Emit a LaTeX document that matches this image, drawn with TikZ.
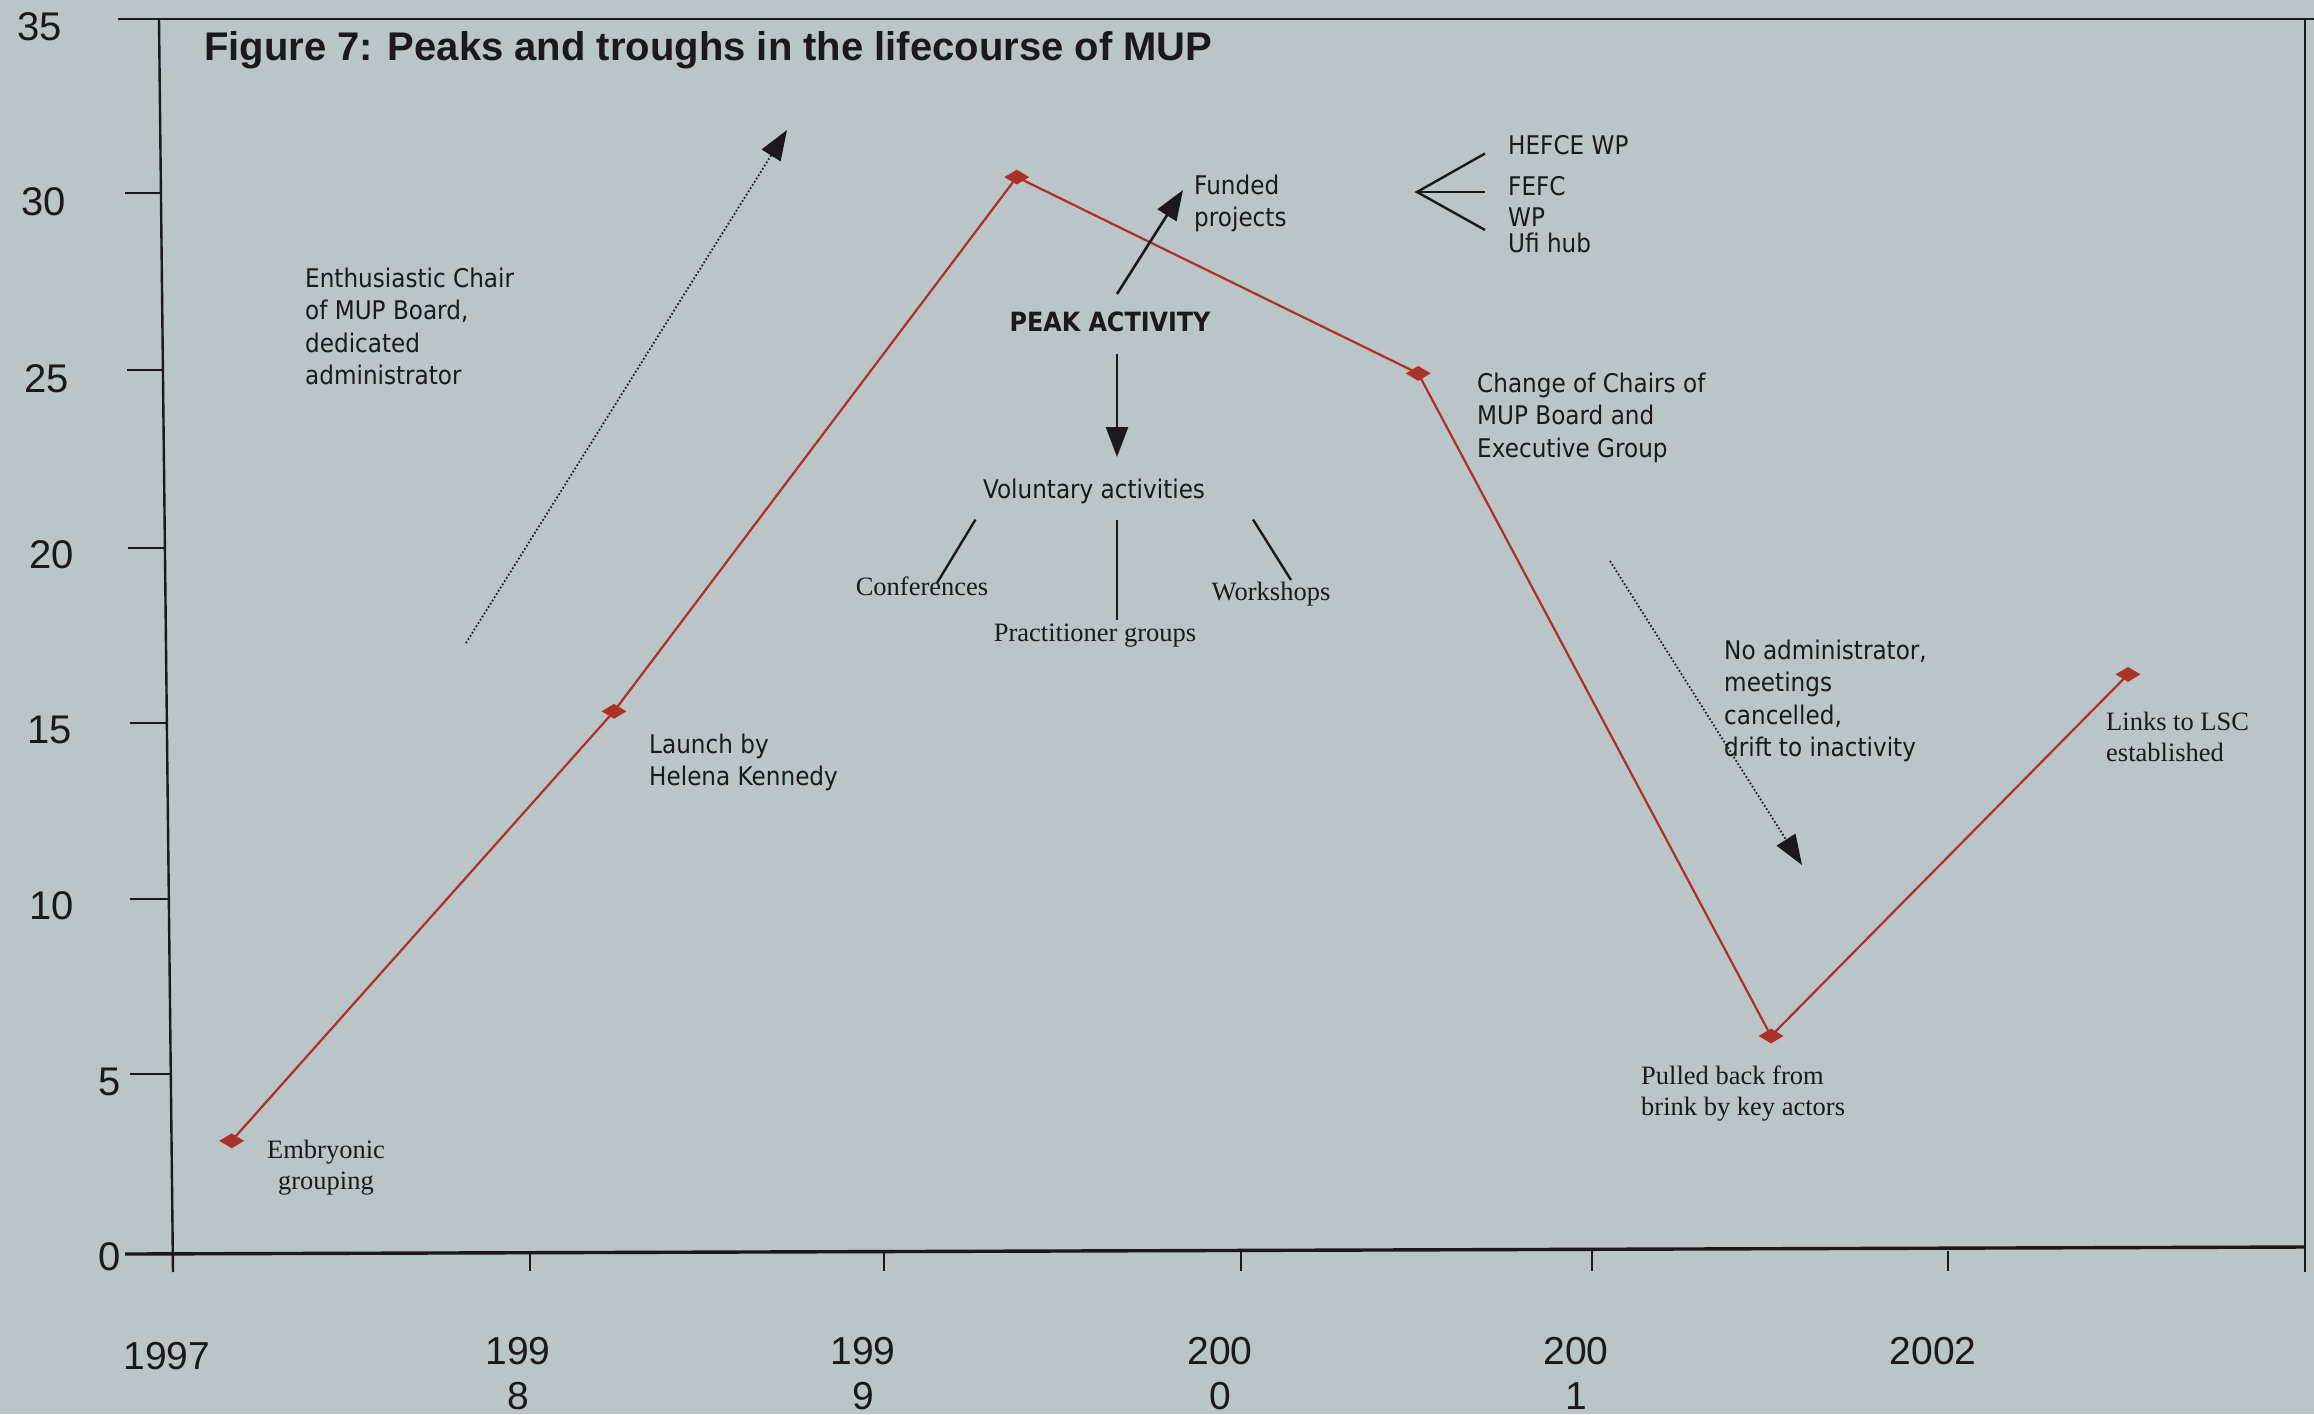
\documentclass[tikz,border=0pt]{standalone}
\usepackage{fontspec}
\setmainfont{Liberation Serif}
\newfontfamily\lblfont[FakeStretch=0.9]{DejaVu Sans}
\newfontfamily\axfont{Liberation Sans}
\usetikzlibrary{arrows.meta,shapes.geometric}

\definecolor{paper}{RGB}{187,196,199}
\definecolor{ink}{RGB}{26,26,28}
\definecolor{trend}{RGB}{172,50,40}

\begin{document}
\begin{tikzpicture}[x=1pt,y=-1pt,
  sans/.style={font=\lblfont\fontsize{25.7}{32.5}\selectfont, text=ink, inner sep=0pt, align=left},
  sansbold/.style={font=\lblfont\bfseries\fontsize{26.5}{32.5}\selectfont, text=ink, inner sep=0pt},
  serifl/.style={font=\fontsize{26.5}{31}\selectfont, text=ink, inner sep=0pt},
  ylab/.style={font=\axfont\fontsize{40}{44}\selectfont, text=ink, inner sep=0pt, anchor=east},
  xlab/.style={font=\axfont\fontsize{39}{45}\selectfont, text=ink, inner sep=0pt, align=center, anchor=base},
  frame/.style={ink, line width=2.4pt},
  tick/.style={ink, line width=2pt},
  ptmark/.style={diamond, fill=trend, draw=none, inner sep=0pt, minimum width=25pt, minimum height=15pt},
  trendline/.style={trend, line width=2.2pt},
  solidarrow/.style={ink, line width=2.6pt, -{Triangle[length=30pt,width=22pt]}},
  dotarrow/.style={ink, line width=1.8pt, dash pattern=on 1.6pt off 2.2pt, -{Triangle[length=30pt,width=22pt]}},
  branch/.style={ink, line width=2.4pt}
]
% paper and page size
\fill[paper] (0,0) rectangle (2314,1414);
\useasboundingbox (0,0) rectangle (2314,1414);

% chart frame and axes
\draw[frame] (118,19) -- (2314,19);
\draw[frame] (159,19) -- (173,1272);
\draw[frame] (2305,19) -- (2305,1272);
\draw[ink, line width=3.4pt] (125,1254) -- (2305,1247);

% y-axis ticks
\draw[tick] (125,193) -- (161,193);
\draw[tick] (127,370) -- (164,370);
\draw[tick] (128,548) -- (166,548);
\draw[tick] (130,723) -- (168,723);
\draw[tick] (130,899) -- (170,899);
\draw[tick] (130,1074) -- (172,1074);

% y-axis labels
\node[ylab] (y35) at (62,27) {35};
\node[ylab] (y30) at (66,202) {30};
\node[ylab] (y25) at (69,379) {25};
\node[ylab] (y20) at (74,555) {20};
\node[ylab] (y15) at (72,730) {15};
\node[ylab] (y10) at (74,906) {10};
\node[ylab] (y05) at (121,1082) {5};
\node[ylab] (y00) at (121,1257) {0};

% x-axis ticks
\foreach \xx in {173,530,884,1241,1592,1948}
  \draw[tick] (\xx,1251) -- (\xx,1271);

% x-axis labels (base anchor sits on the last line)
\node[xlab] (x1997) at (167,1369) {1997};
\node[xlab] (x1998) at (518,1409) {199\\8};
\node[xlab] (x1999) at (863,1409) {199\\9};
\node[xlab] (x2000) at (1220,1409) {200\\0};
\node[xlab] (x2001) at (1576,1409) {200\\1};
\node[xlab] (x2002) at (1933,1364) {2002};

% title
\node[font=\axfont\bfseries\fontsize{40}{44}\selectfont, text=ink, inner sep=0pt, anchor=base west]
  (title) at (204,60) {Figure 7: Peaks and troughs in the lifecourse of MUP};

% trend line with its data points
\coordinate (p1) at (231.7,1140.8);
\coordinate (p2) at (614,711.3);
\coordinate (p3) at (1016.8,177.1);
\coordinate (p4) at (1418.2,373.4);
\coordinate (p5) at (1771,1036);
\coordinate (p6) at (2128,674.4);
\draw[trendline] (p1) -- (p2) -- (p3) -- (p4) -- (p5) -- (p6);
\foreach \pp in {p1,p2,p3,p4,p5,p6}
  \node[ptmark] (m\pp) at (\pp) {};

% point labels (base anchor sits on the last line)
\node[serifl, align=center, anchor=base] (embryo) at (326,1189) {Embryonic\\grouping};
\node[sans, anchor=base west] (launch) at (649,785.5) {Launch by\\Helena Kennedy};
\node[sans, anchor=base west] (chairs) at (1477,457) {Change of Chairs of\\MUP Board and\\Executive Group};
\node[serifl, align=left, anchor=base west] (pulled) at (1641,1115) {Pulled back from\\brink by key actors};
\node[serifl, align=left, anchor=base west] (links) at (2106,761) {Links to LSC\\established};

% rising phase
\node[sans, anchor=base west] (enthus) at (305,384.5) {Enthusiastic Chair\\of MUP Board,\\dedicated\\administrator};
\coordinate (riseA) at (466,643);
\coordinate (riseB) at (787,130);
\draw[dotarrow] (riseA) -- (riseB);

% peak activity
\node[sansbold, anchor=base] (peak) at (1110,331) {PEAK ACTIVITY};
\node[sans, anchor=base west] (funded) at (1194,226.5) {Funded\\projects};
\coordinate (fundA) at (1117,294);
\coordinate (fundB) at (1183,190);
\draw[solidarrow] (fundA) -- (fundB);

\node[sans, anchor=base] (volun) at (1094,498) {Voluntary activities};
\coordinate (volA) at (1117,354);
\coordinate (volB) at (1117,457);
\draw[solidarrow] (volA) -- (volB);

\node[serifl, anchor=base] (confs) at (922,595) {Conferences};
\node[serifl, anchor=base] (pract) at (1095,641) {Practitioner groups};
\node[serifl, anchor=base] (works) at (1271,600) {Workshops};
\coordinate (brL1) at (975.5,519.5);
\coordinate (brL2) at (937,583);
\coordinate (brM1) at (1117,519.5);
\coordinate (brM2) at (1117,620);
\coordinate (brR1) at (1253,519.5);
\coordinate (brR2) at (1291,580);
\draw[branch] (brL1) -- (brL2);
\draw[branch] (brM1) -- (brM2);
\draw[branch] (brR1) -- (brR2);

% funding sources
\node[sans, anchor=base west] (hefce) at (1508,154) {HEFCE WP};
\node[sans, anchor=base west] (fefc) at (1508,195) {FEFC};
\node[sans, anchor=base west] (wp) at (1508,226) {WP};
\node[sans, anchor=base west] (ufi) at (1508,252) {Ufi hub};
\coordinate (fan) at (1417,192);
\coordinate (fanT) at (1485,153.5);
\coordinate (fanM) at (1485,192);
\coordinate (fanB) at (1485,230);
\draw[branch] (fanT) -- (fan) -- (fanB);
\draw[branch] (fan) -- (fanM);

% falling phase
\node[sans, anchor=base west] (noadmin) at (1724,756.5) {No administrator,\\meetings\\cancelled,\\drift to inactivity};
\coordinate (fallA) at (1610,561);
\coordinate (fallB) at (1802,865);
\draw[dotarrow] (fallA) -- (fallB);
\end{tikzpicture}
\end{document}
